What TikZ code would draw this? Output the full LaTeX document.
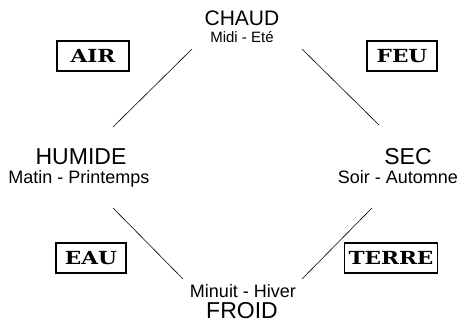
\documentclass[tikz,border=0pt]{standalone}
\usepackage{fontspec}
\setmainfont{Liberation Sans}
\newfontfamily\boxfont{DejaVu Serif Bold}
\tikzset{
  title/.style={anchor=base, inner sep=0pt, font=\fontsize{23}{23}\selectfont},
  sub/.style={anchor=base, inner sep=0pt, font=\fontsize{18}{18}\selectfont},
  element/.style={draw, line width=1.1pt, rectangle, inner sep=0pt, minimum height=30pt, font=\boxfont\fontsize{18}{18}\selectfont},
  link/.style={line width=0.6pt}
}
\begin{document}
\begin{tikzpicture}[x=1pt,y=-1pt]
\useasboundingbox (0,0) rectangle (469,324);
% titles
\node[title, font=\fontsize{21}{21}\selectfont] (chaud) at (242,25) {CHAUD};
\node[sub, font=\fontsize{15}{15}\selectfont] (midi) at (242,42) {Midi - Eté};
\node[title] (humide) at (81,164) {HUMIDE};
\node[sub] (matin) at (79,183) {Matin - Printemps};
\node[title] (sec) at (408,164) {SEC};
\node[sub] (soir) at (398,183) {Soir - Automne};
\node[sub] (minuit) at (243,297) {Minuit - Hiver};
\node[title] (froid) at (242,318) {FROID};
% elements
\node[element, minimum width=72pt] (air) at (93,56) {\scalebox{1.2}[1]{AIR}};
\node[element, minimum width=70pt] (feu) at (402,56) {\scalebox{1.2}[1]{FEU}};
\node[element, minimum width=70pt] (eau) at (91,258) {\scalebox{1.2}[1]{EAU}};
\node[element, minimum width=93pt] (terre) at (391,258) {\scalebox{1.2}[1]{TERRE}};
% line ends
\coordinate (tl1) at (113,127); \coordinate (tl2) at (192,49);
\coordinate (tr1) at (302,49); \coordinate (tr2) at (379,125);
\coordinate (bl1) at (113,208); \coordinate (bl2) at (183,279);
\coordinate (br1) at (372,208); \coordinate (br2) at (302,279);
\draw[link] (tl1) -- (tl2);
\draw[link] (tr1) -- (tr2);
\draw[link] (bl1) -- (bl2);
\draw[link] (br1) -- (br2);
\end{tikzpicture}
\end{document}
